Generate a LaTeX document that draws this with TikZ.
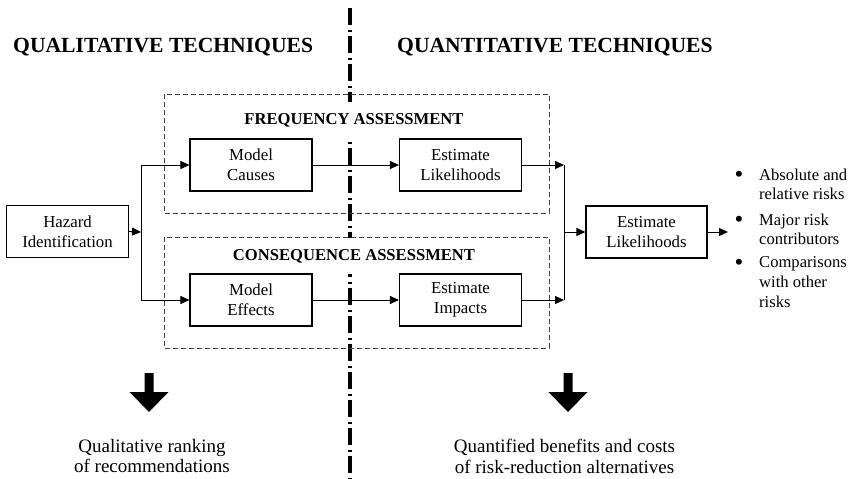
\documentclass[tikz,border=0pt]{standalone}
\usepackage{fontspec}
\setmainfont{Liberation Serif}
\usetikzlibrary{arrows.meta}
\begin{document}
\begin{tikzpicture}[x=1pt,y=-1pt,
  box/.style={draw, line width=1.1pt, minimum width=122pt, minimum height=52pt, align=center, inner sep=0pt, font=\fontsize{16.8}{20}\selectfont},
  arr/.style={line width=0.9pt, -{Triangle[length=9pt,width=8pt]}},
  conn/.style={line width=0.9pt},
  group/.style={draw=black!75, line width=0.9pt, dash pattern=on 5pt off 3pt},
  divider/.style={line width=4pt, dash pattern=on 17pt off 4.5pt on 2.5pt off 4pt},
  grouptitle/.style={font=\bfseries\fontsize{16.6}{20}\selectfont, fill=white, inner xsep=2pt, inner ysep=0pt, text height=22pt, text depth=14pt, anchor=base},
  bigtitle/.style={font=\bfseries\fontsize{21.6}{26}\selectfont, anchor=base west, inner sep=0pt},
  item/.style={font=\fontsize{16.6}{19.7}\selectfont, align=left, anchor=north west, inner sep=0pt},
  bullet/.style={font=\bfseries\fontsize{22}{22}\selectfont, anchor=base, inner sep=0pt},
  result/.style={font=\fontsize{19}{20.5}\selectfont, align=center, anchor=north, inner sep=0pt},
  bigarrow/.style={fill=black}
]
\fill[white] (0,0) rectangle (859,479);
\useasboundingbox (0,0) rectangle (859,479);

% divider
\draw[divider] (350,8) -- (350,479);

% headings
\node[bigtitle] (qual) at (13,52) {QUALITATIVE TECHNIQUES};
\node[bigtitle] (quant) at (397,52) {QUANTITATIVE TECHNIQUES};

% group titles (white ground hides divider)
\node[grouptitle] (ft) at (354,124) {FREQUENCY ASSESSMENT};
\node[grouptitle] (ct) at (354,260) {CONSEQUENCE ASSESSMENT};

% dashed groups
\draw[group] (164,94) rectangle (549,213);
\draw[group] (164,237) rectangle (549,348);

% boxes
\node[box] (haz) at (67.5,231.5) {Hazard\\Identification};
\node[box] (mc) at (251,165) {Model\\Causes};
\node[box] (el) at (460.5,165) {Estimate\\Likelihoods};
\node[box] (me) at (251,300) {Model\\Effects};
\node[box] (ei) at (460.5,300) {Estimate\\Impacts};
\node[box, minimum width=121pt] (fin) at (646.5,232) {Estimate\\Likelihoods};

% junctions
\coordinate (jl) at (141,232);
\coordinate (jr) at (564,232);
\coordinate (out) at (728,232);

\draw[arr] (haz.east) -- (jl);
\draw[arr] (jl) |- (mc.west);
\draw[arr] (jl) |- (me.west);
\draw[arr] (mc.east) -- (el.west);
\draw[arr] (me.east) -- (ei.west);
\draw[arr] (el.east) -- (el.east -| jr);
\draw[arr] (ei.east) -- (ei.east -| jr);
\draw[conn] (el.east -| jr) -- (ei.east -| jr);
\draw[arr] (jr) -- (fin.west);
\draw[arr] (fin.east) -- (out);

% bullet list
\node[bullet] (b1) at (739,181) {•};
\node[bullet] (b2) at (739,226) {•};
\node[bullet] (b3) at (739,269) {•};
\node[item] (i1) at (759,168.5) {Absolute and\\relative risks};
\node[item] (i2) at (759,213.5) {Major risk\\contributors};
\node[item] (i3) at (759,256.5) {Comparisons\\with other\\risks};

% big arrows
\fill[bigarrow, shift={(149,0)}] (-4.5,373) -- (4.5,373) -- (4.5,392) -- (19.5,392) -- (0,412) -- (-19.5,392) -- (-4.5,392) -- cycle;
\fill[bigarrow, shift={(568,0)}] (-4.5,373) -- (4.5,373) -- (4.5,392) -- (19.5,392) -- (0,412) -- (-19.5,392) -- (-4.5,392) -- cycle;

% results
\node[result] (r1) at (152,439) {Qualitative ranking\\of recommendations};
\node[result] (r2) at (564.5,439) {Quantified benefits and costs\\of risk-reduction alternatives};
\end{tikzpicture}
\end{document}
